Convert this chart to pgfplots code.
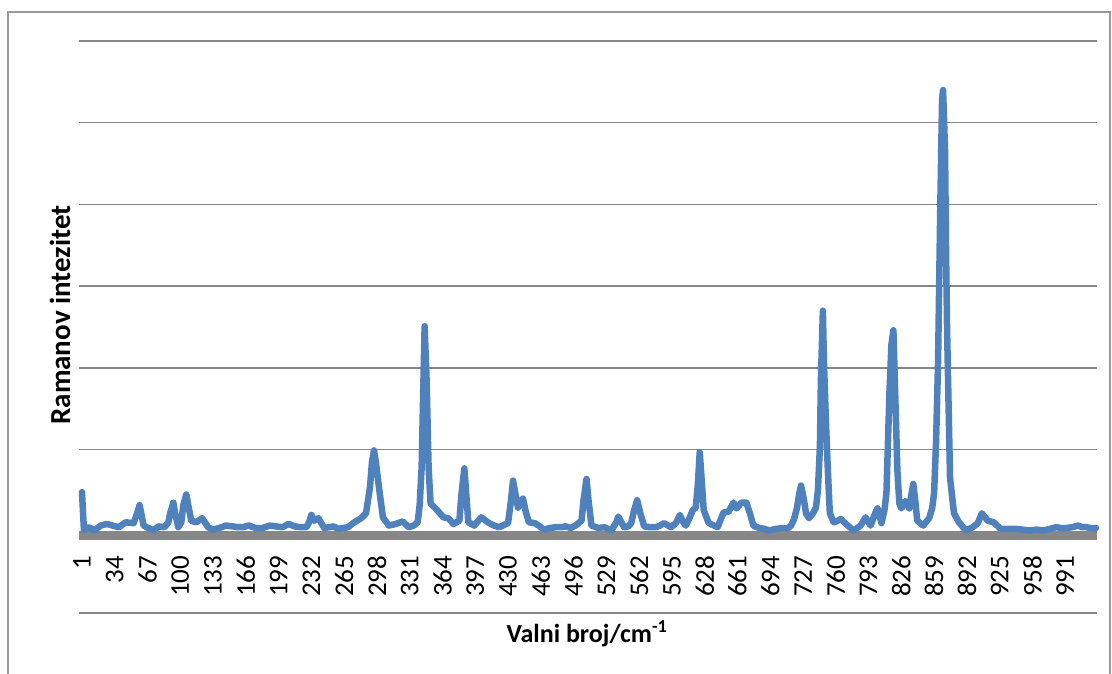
\documentclass[border=0pt]{standalone}
\usepackage{pgfplots}
\pgfplotsset{compat=1.18}
\usepackage{fontspec}
\setmainfont{Carlito}
\definecolor{serblue}{HTML}{4F81BD}
\definecolor{gridgray}{HTML}{878787}
\begin{document}
\begin{tikzpicture}
\useasboundingbox (0pt,0pt) rectangle (1112pt,-674pt);
\draw[gridgray!85, line width=1.5pt] (8pt,-674pt) -- (8pt,-12pt) -- (1110pt,-12pt) -- (1110pt,-674pt);
\begin{axis}[
  at={(79pt,-613pt)}, anchor=south west,
  scale only axis, width=1018pt, height=572pt,
  xmin=-2, xmax=1023, ymin=-1, ymax=6,
  axis x line*=middle, axis y line*=left,
  axis line style={draw=none},
  xtick={1,34,...,991},
  xticklabel={\fontsize{27}{27}\selectfont\pgfmathprintnumber{\tick}},
  ytick={-1,0,...,6}, yticklabels={},
  ymajorgrids, grid style={gridgray, line width=1.5pt},
  major tick length=0pt,
  xticklabel style={yshift=-2pt, rotate=90, anchor=east},
  xticklabel shift=19pt,
  /pgf/number format/assume math mode=true,
  /pgf/number format/1000 sep={},
  clip=false,
]
\draw[gridgray, line width=9pt] ([yshift=-4pt]axis cs:-2,0) -- ([yshift=-4pt]axis cs:1023,0);
\addplot[serblue, line width=6.5pt, line join=round, line cap=round] table {
x y
1 0.48
3 0.01
8 0.05
13 0.01
20 0.07
26 0.09
32 0.07
38 0.05
45 0.11
53 0.10
56 0.20
59 0.32
61 0.20
63 0.07
68 0.04
73 0.01
78 0.06
84 0.05
88 0.11
90 0.23
93 0.35
95 0.21
98 0.05
101 0.11
103 0.32
106 0.45
108 0.32
111 0.13
116 0.11
122 0.16
128 0.05
133 0.02
139 0.04
146 0.07
153 0.06
158 0.05
163 0.05
169 0.07
176 0.04
183 0.04
190 0.07
196 0.06
203 0.05
209 0.09
215 0.06
221 0.05
227 0.05
230 0.12
232 0.20
235 0.13
239 0.16
245 0.04
250 0.05
254 0.06
259 0.03
264 0.04
269 0.05
274 0.10
282 0.16
287 0.22
291 0.54
293 0.85
295 0.99
297 0.84
300 0.54
304 0.17
310 0.07
317 0.09
324 0.12
330 0.05
335 0.07
339 0.11
341 0.32
343 0.78
345 1.95
346 2.51
348 1.85
350 0.78
352 0.34
357 0.28
365 0.17
370 0.16
375 0.09
381 0.13
383 0.44
386 0.77
388 0.44
390 0.11
396 0.07
403 0.17
411 0.10
416 0.07
421 0.05
430 0.10
433 0.38
435 0.62
438 0.42
440 0.29
443 0.36
445 0.40
448 0.23
451 0.11
457 0.10
462 0.06
466 0.02
472 0.04
478 0.05
483 0.05
488 0.06
493 0.04
498 0.07
504 0.13
506 0.38
509 0.64
511 0.38
514 0.07
521 0.04
527 0.05
534 0.01
539 0.11
541 0.18
545 0.09
547 0.05
551 0.06
554 0.10
557 0.26
560 0.38
563 0.23
567 0.06
573 0.05
579 0.05
583 0.07
587 0.10
594 0.05
599 0.10
603 0.20
606 0.12
609 0.07
613 0.17
616 0.26
619 0.29
621 0.56
623 0.97
625 0.62
627 0.26
632 0.10
641 0.05
647 0.23
652 0.24
657 0.35
660 0.28
665 0.35
670 0.35
674 0.20
677 0.07
683 0.04
688 0.03
693 0.01
700 0.03
707 0.04
712 0.04
715 0.07
718 0.15
721 0.29
723 0.45
725 0.56
728 0.38
730 0.22
733 0.16
737 0.22
740 0.29
742 0.50
744 1.03
745 1.85
747 2.70
748 2.10
750 1.36
752 0.75
754 0.22
758 0.11
762 0.13
765 0.15
772 0.07
778 0.01
785 0.07
790 0.17
795 0.07
800 0.23
802 0.28
806 0.10
809 0.26
811 0.47
814 1.69
816 2.28
818 2.46
820 1.60
822 0.75
824 0.34
826 0.28
830 0.37
834 0.28
836 0.44
838 0.58
840 0.38
842 0.13
848 0.07
854 0.16
857 0.28
859 0.47
861 1.11
863 2.09
865 3.81
867 5.28
868 5.40
870 4.66
871 3.44
872 2.50
875 0.66
879 0.22
884 0.11
891 0.01
898 0.05
903 0.10
907 0.22
913 0.13
919 0.11
926 0.03
934 0.03
941 0.03
948 0.02
955 0.01
962 0.02
969 0.01
976 0.03
982 0.05
987 0.04
992 0.04
998 0.05
1004 0.07
1008 0.05
1012 0.05
1017 0.04
1022 0.04
};
\end{axis}
\node[rotate=90, anchor=base, font=\bfseries\fontsize{29}{29}\selectfont] at (70pt,-315pt) {Ramanov intezitet};
\node[anchor=base, font=\bfseries\fontsize{26}{26}\selectfont] at (587pt,-642pt) {Valni broj/cm\textsuperscript{-1}};
\end{tikzpicture}
\end{document}
